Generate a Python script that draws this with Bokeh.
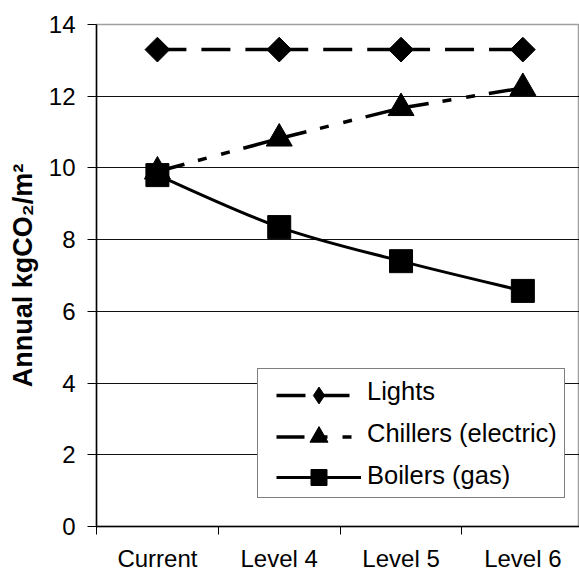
from bokeh.plotting import figure
from bokeh.models import Range1d, FixedTicker, Legend, LegendItem
from bokeh.embed import file_html
from bokeh.resources import INLINE
import numpy as np
import math

# ---- data ----
categories = ["Current", "Level 4", "Level 5", "Level 6"]
lights = [13.3, 13.3, 13.3, 13.3]
chillers = [9.9, 10.82, 11.67, 12.23]
boilers = [9.8, 8.35, 7.4, 6.57]
y_ticks = [0, 2, 4, 6, 8, 10, 12, 14]
series_names = ["Lights", "Chillers (electric)", "Boilers (gas)"]

FONT = "Liberation Sans"
FRAME_LEFT, FRAME_BOTTOM = 96, 526

xs = list(range(len(categories)))

p = figure(width=579, height=574, output_backend="svg", toolbar_location=None,
           x_range=Range1d(-0.5, 3.465), y_range=Range1d(0, 14),
           min_border_left=96, min_border_right=0, min_border_top=24, min_border_bottom=48)
p.background_fill_color = "white"
p.border_fill_color = "white"
p.outline_line_color = "#a0a0a0"
p.outline_line_width = 1.5

# grid
p.xgrid.visible = False
p.ygrid.ticker = FixedTicker(ticks=y_ticks[1:-1])
p.ygrid.grid_line_color = "#111111"
p.ygrid.grid_line_width = 1

# x axis
xa = p.xaxis[0]
xa.ticker = FixedTicker(ticks=xs, minor_ticks=[i - 0.5 for i in range(len(categories) + 1)])
xa.major_label_overrides = {i: c for i, c in enumerate(categories)}
xa.major_tick_out = 0
xa.major_tick_in = 0
xa.minor_tick_out = 8
xa.minor_tick_in = 0
xa.minor_tick_line_color = "black"
xa.axis_line_color = "black"
xa.axis_line_width = 1.5
xa.major_label_text_font = FONT
xa.major_label_text_font_size = "24px"
xa.major_label_text_color = "black"
xa.major_label_standoff = 10

# y axis
ya = p.yaxis[0]
ya.ticker = FixedTicker(ticks=y_ticks)
ya.major_tick_out = 9
ya.major_tick_in = 0
ya.minor_tick_out = 0
ya.minor_tick_in = 0
ya.major_tick_line_color = "black"
ya.axis_line_color = "black"
ya.axis_line_width = 1.5
ya.major_label_text_font = FONT
ya.major_label_text_font_size = "24px"
ya.major_label_text_color = "black"
ya.major_label_standoff = 12
ya.axis_label = "Annual kgCO\u2082/m\u00b2"
ya.axis_label_text_font = FONT
ya.axis_label_text_font_style = "bold"
ya.axis_label_text_font_size = "27px"
ya.axis_label_text_color = "black"
ya.axis_label_standoff = 8

# ---- Lights: dashed, dash pattern restarts at each point ----
r_l_line = p.segment(x0=xs[:-1], y0=lights[:-1], x1=xs[1:], y1=lights[1:],
                     line_color="black", line_width=3.5, line_dash="29 15")
p.scatter(xs, lights, marker="square", angle=math.pi / 4, size=17.5,
          fill_color="black", line_color="black")
r_l_key = p.scatter(x=[np.nan], y=[np.nan], marker="diamond",
                    fill_color="black", line_color="black")

# ---- Chillers: long dash dot dot ----
r_c_line = p.segment(x0=xs[:-1], y0=chillers[:-1], x1=xs[1:], y1=chillers[1:],
                     line_color="black", line_width=3.5, line_dash="28 14 9 15 9 14")
r_c_mark = p.scatter(xs, chillers, marker="triangle", size=26,
                     fill_color="black", line_color="black")

# ---- Boilers: smoothed solid ----
bx = np.array(xs, dtype=float)
by = np.array(boilers, dtype=float)
n = len(bx)
x0, y0, x1, y1, cx0, cy0, cx1, cy1 = [], [], [], [], [], [], [], []
for i in range(n - 1):
    pr = max(i - 1, 0)
    nx = min(i + 2, n - 1)
    x0.append(bx[i]); y0.append(by[i]); x1.append(bx[i + 1]); y1.append(by[i + 1])
    cx0.append(bx[i] + (bx[i + 1] - bx[pr]) / 6)
    cy0.append(by[i] + (by[i + 1] - by[pr]) / 6)
    cx1.append(bx[i + 1] - (bx[nx] - bx[i]) / 6)
    cy1.append(by[i + 1] - (by[nx] - by[i]) / 6)
p.bezier(x0=x0, y0=y0, x1=x1, y1=y1, cx0=cx0, cy0=cy0, cx1=cx1, cy1=cy1,
         line_color="black", line_width=3)
r_b_key = p.line(x=[np.nan, np.nan], y=[np.nan, np.nan], line_color="black", line_width=3)
r_b_mark = p.scatter(xs, boilers, marker="square", size=23,
                     fill_color="black", line_color="black")

r_blank = p.line(x=[np.nan, np.nan], y=[np.nan, np.nan], line_alpha=0)

# ---- legend box with labels ----
legend = Legend(items=[LegendItem(label=s, renderers=[r_blank]) for s in series_names],
                location=(257 - FRAME_LEFT, FRAME_BOTTOM - 498))
legend.label_text_font = FONT
legend.label_text_font_size = "25.5px"
legend.label_text_color = "black"
legend.glyph_width = 96
legend.glyph_height = 30
legend.label_height = 30
legend.label_standoff = 6
legend.spacing = 12
legend.padding = 7
legend.margin = 0
legend.border_line_color = "black"
legend.border_line_width = 1
legend.background_fill_color = "white"
legend.background_fill_alpha = 1
p.add_layout(legend, "center")


# ---- legend samples (line + marker), one transparent legend per row ----
def key_row(renderers, left, cy, w, g):
    lg = Legend(items=[LegendItem(label=" ", renderers=renderers)],
                location=(left - FRAME_LEFT, FRAME_BOTTOM - (cy + g / 2)))
    lg.glyph_width = w
    lg.glyph_height = g
    lg.label_height = 0
    lg.label_width = 0
    lg.label_standoff = 0
    lg.label_text_alpha = 0
    lg.label_text_font_size = "1px"
    lg.padding = 0
    lg.spacing = 0
    lg.margin = 0
    lg.border_line_alpha = 0
    lg.background_fill_alpha = 0
    p.add_layout(lg, "center")


key_row([r_l_line, r_l_key], 276, 394.5, 85, 42)
key_row([r_c_line, r_c_mark], 276, 436.5, 85, 45)
key_row([r_b_key, r_b_mark], 276, 476.5, 85, 40)

open("out.html", "w").write(file_html(p, INLINE))
